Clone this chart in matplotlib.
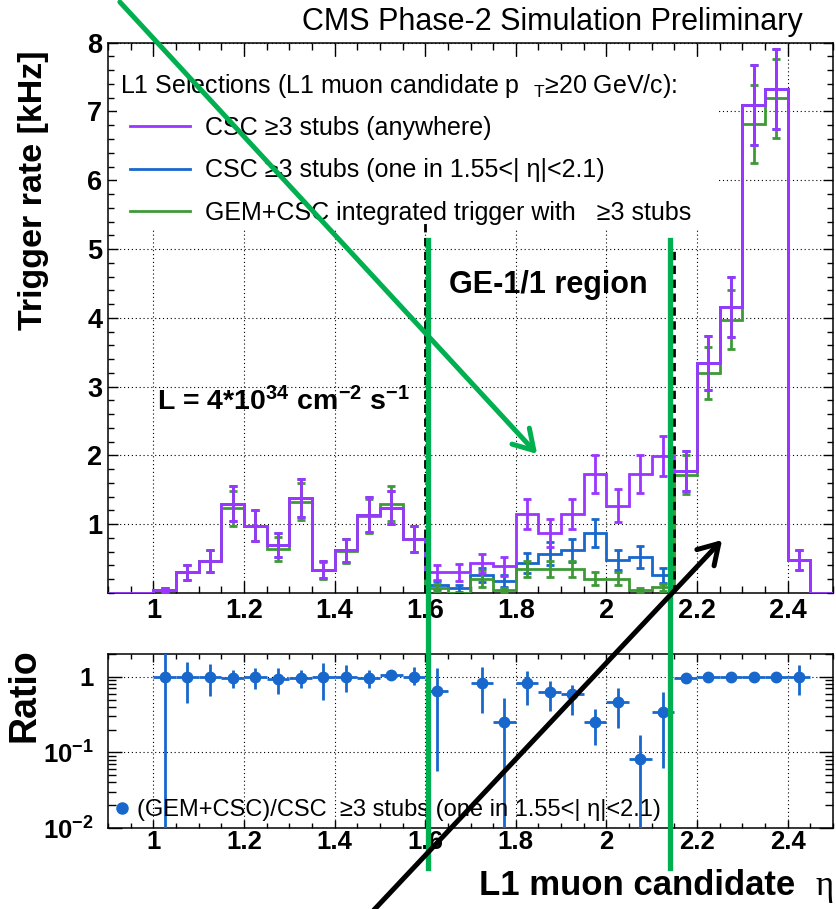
import numpy as np
import matplotlib
matplotlib.use("Agg")
import matplotlib.pyplot as plt
from matplotlib.lines import Line2D
from matplotlib.patches import Rectangle, FancyArrowPatch
from matplotlib.ticker import MultipleLocator, FixedLocator, LogLocator, NullFormatter, FuncFormatter

plt.rcParams['font.family'] = ['Liberation Sans', 'DejaVu Sans']
plt.rcParams['font.weight'] = 'bold'
plt.rcParams['mathtext.default'] = 'regular'

# ---------------- data ----------------
bin_edges = np.round(np.linspace(0.9, 2.5, 33), 3)

csc_any = [0.0, 0.0, 0.04, 0.30, 0.47, 1.30, 0.98, 0.70, 1.38, 0.34, 0.62, 1.14, 1.24, 0.79,
           0.30, 0.30, 0.43, 0.39, 1.15, 0.87, 1.15, 1.73, 1.27, 1.73, 1.99, 1.78,
           3.34, 4.16, 7.10, 7.33, 0.48, 0.0]
csc_any_err = [0.0, 0.0, 0.03, 0.11, 0.16, 0.26, 0.22, 0.17, 0.28, 0.12, 0.17, 0.25, 0.24, 0.19,
               0.11, 0.12, 0.14, 0.14, 0.22, 0.20, 0.22, 0.27, 0.24, 0.27, 0.29, 0.29,
               0.39, 0.44, 0.58, 0.58, 0.15, 0.0]

csc_me11 = [0.0, 0.0, 0.04, 0.30, 0.47, 1.30, 0.98, 0.70, 1.38, 0.34, 0.62, 1.14, 1.24, 0.79,
            0.12, 0.07, 0.26, 0.17, 0.43, 0.57, 0.62, 0.87, 0.48, 0.53, 0.26, 1.78,
            3.34, 4.16, 7.10, 7.33, 0.48, 0.0]
csc_me11_err = [0.0, 0.0, 0.03, 0.11, 0.16, 0.26, 0.22, 0.17, 0.28, 0.12, 0.17, 0.25, 0.24, 0.19,
                0.06, 0.05, 0.10, 0.09, 0.145, 0.165, 0.17, 0.20, 0.145, 0.16, 0.11, 0.29,
                0.39, 0.44, 0.58, 0.58, 0.15, 0.0]

gem_csc = [0.0, 0.0, 0.04, 0.30, 0.47, 1.23, 0.98, 0.64, 1.33, 0.33, 0.61, 1.12, 1.30, 0.79,
           0.075, 0.0, 0.21, 0.04, 0.35, 0.35, 0.35, 0.21, 0.21, 0.045, 0.08, 1.72,
           3.20, 3.97, 6.82, 7.19, 0.48, 0.0]
gem_csc_err = [0.0, 0.0, 0.03, 0.11, 0.16, 0.25, 0.22, 0.17, 0.27, 0.12, 0.17, 0.25, 0.25, 0.19,
               0.05, 0.0, 0.12, 0.03, 0.12, 0.12, 0.12, 0.09, 0.09, 0.03, 0.05, 0.28,
               0.38, 0.43, 0.57, 0.58, 0.15, 0.0]

ratio_x = [1.025, 1.075, 1.125, 1.175, 1.225, 1.275, 1.325, 1.375, 1.425, 1.475, 1.525, 1.575,
           1.625, 1.725, 1.775, 1.825, 1.875, 1.925, 1.975, 2.025, 2.075, 2.125,
           2.175, 2.225, 2.275, 2.325, 2.375, 2.425]
ratio_val = [1.0, 1.0, 1.0, 0.96, 1.0, 0.93, 0.97, 1.0, 1.0, 0.95, 1.05, 1.0,
             0.65, 0.83, 0.256, 0.82, 0.62, 0.585, 0.256, 0.47, 0.083, 0.34,
             0.97, 0.98, 0.98, 0.98, 0.98, 1.0]
ratio_hi = [2.5, 1.55, 1.47, 1.22, 1.29, 1.31, 1.22, 1.53, 1.42, 1.22, 1.22, 1.35,
            1.29, 1.35, 0.53, 1.19, 0.88, 0.78, 0.38, 0.70, 0.17, 0.62,
            1.13, 1.06, 1.06, 1.04, 1.04, 1.42]
ratio_lo = [0.001, 0.45, 0.56, 0.70, 0.68, 0.60, 0.72, 0.49, 0.62, 0.70, 0.90, 0.78,
            0.056, 0.33, 0.001, 0.42, 0.35, 0.31, 0.126, 0.21, 0.001, 0.062,
            0.82, 0.90, 0.90, 0.92, 0.92, 0.57]
ratio_xerr = 0.025

region_edges = [1.6, 2.15]
region_dash_top = [5.4, 5.02]

x_ticks_major = 0.2
x_ticks_minor = 0.05

c_purple = '#9a36ff'
c_blue = '#1767cc'
c_green = '#3d9a36'
c_mark = '#00b050'

labels = ['CSC \u22653 stubs (anywhere)',
          'CSC \u22653 stubs (one in 1.55<| \u03b7|<2.1)',
          'GEM+CSC integrated trigger with   \u22653 stubs']
header = 'L1 Selections (L1 muon candidate p  $_{T}$\u226520 GeV/c):'
ratio_label = '(GEM+CSC)/CSC  \u22653 stubs (one in 1.55<| \u03b7|<2.1)'

# ---------------- layout ----------------
W, H = 837, 909
fig = plt.figure(figsize=(W / 100, H / 100), dpi=100)


def fx(px):
    return px / W


def fy(py):
    return 1 - py / H


ax = fig.add_axes([fx(108), fy(593), fx(833) - fx(108), fy(42.7) - fy(593)])
ax2 = fig.add_axes([fx(108), fy(828), fx(833) - fx(108), fy(654) - fy(828)])

centers = 0.5 * (bin_edges[:-1] + bin_edges[1:])

series = [(csc_me11, csc_me11_err, c_blue, 2),
          (gem_csc, gem_csc_err, c_green, 3),
          (csc_any, csc_any_err, c_purple, 4)]
for vals, errs, col, z in series:
    vals = np.asarray(vals)
    errs = np.asarray(errs)
    ax.stairs(vals, bin_edges, color=col, lw=2.0, zorder=z)
    m = vals > 0
    ax.errorbar(centers[m], vals[m], yerr=errs[m], fmt='none', ecolor=col,
                elinewidth=2.0, capsize=3.2, capthick=2.0, zorder=z)

for xe, yt in zip(region_edges, region_dash_top):
    ax.plot([xe, xe], [0, yt], color='black', lw=2.0, ls=(0, (3, 2)), zorder=5)

ax.set_xlim(0.9, 2.5)
ax.set_ylim(0, 8)
ax.xaxis.set_major_locator(MultipleLocator(x_ticks_major))
ax.xaxis.set_minor_locator(MultipleLocator(x_ticks_minor))
ax.xaxis.set_major_formatter(FuncFormatter(lambda v, p: f"{v:g}"))
ax.yaxis.set_major_locator(FixedLocator([1, 2, 3, 4, 5, 6, 7, 8]))
ax.yaxis.set_minor_locator(MultipleLocator(0.2))
ax.tick_params(which='both', direction='in', top=True, right=True, width=1.0, labelsize=19.5)
ax.tick_params(axis='x', which='major', length=9, pad=3.5)
ax.tick_params(axis='x', which='minor', length=4.7)
ax.tick_params(axis='y', which='major', length=7.5, pad=4)
ax.tick_params(axis='y', which='minor', length=4.5)
ax.grid(True, which='major', color='black', lw=0.8, ls=(0, (1, 2.5)))
for s in ax.spines.values():
    s.set_linewidth(1.1)

# white legend area hiding the grid
ax.add_patch(Rectangle(((117 - 108) / 725, (593 - 228) / 550.3), (717 - 117) / 725,
                       (228 - 57) / 550.3, transform=ax.transAxes, facecolor='white',
                       edgecolor='none', zorder=1.6))

handles = [Line2D([], [], color=c, lw=2.0) for c in (c_purple, c_blue, c_green)]
leg = ax.legend(handles, labels, loc='upper left', bbox_to_anchor=(fx(130), fy(116)),
                bbox_transform=fig.transFigure, frameon=False, borderpad=0, borderaxespad=0,
                handlelength=2.4, handletextpad=0.6, labelspacing=0.74,
                prop={'size': 18, 'weight': 'normal'})
fig.text(fx(120), fy(92.7), header, fontsize=18, fontweight='normal', va='baseline')

# ratio panel
rv = np.asarray(ratio_val)
ax2.errorbar(ratio_x, rv, yerr=[rv - np.asarray(ratio_lo), np.asarray(ratio_hi) - rv],
             xerr=ratio_xerr, fmt='o', color=c_blue, ms=7.5, elinewidth=2.0, capsize=0,
             zorder=3)
ax2.set_yscale('log')
ax2.set_xlim(0.9, 2.5)
ax2.set_ylim(0.01, 2)
ax2.xaxis.set_major_locator(MultipleLocator(x_ticks_major))
ax2.xaxis.set_minor_locator(MultipleLocator(x_ticks_minor))
ax2.xaxis.set_major_formatter(FuncFormatter(lambda v, p: f"{v:g}"))
ax2.yaxis.set_major_locator(FixedLocator([0.01, 0.1, 1]))
ax2.yaxis.set_major_formatter(FuncFormatter(
    lambda v, p: {0.01: '10$^{-2}$', 0.1: '10$^{-1}$', 1: '1'}.get(round(v, 3), '')))
ax2.yaxis.set_minor_locator(LogLocator(base=10, subs=np.arange(2, 10)))
ax2.yaxis.set_minor_formatter(NullFormatter())
ax2.tick_params(which='both', direction='in', top=True, right=True, width=1.0, labelsize=18.5)
ax2.tick_params(axis='x', which='major', length=6, pad=1.5)
ax2.tick_params(axis='x', which='minor', length=3.5)
ax2.tick_params(axis='y', which='major', length=10, pad=10)
ax2.tick_params(axis='y', which='minor', length=6)
ax2.grid(True, which='major', color='black', lw=0.8, ls=(0, (1, 2.5)))
for s in ax2.spines.values():
    s.set_linewidth(1.1)

ax2.legend([Line2D([], [], marker='o', ls='none', color=c_blue, ms=8)], [ratio_label],
           loc='center left', bbox_to_anchor=(fx(115), fy(810)), bbox_transform=fig.transFigure,
           frameon=False, borderpad=0, borderaxespad=0, handlelength=0.6, handletextpad=0.35,
           prop={'size': 17, 'weight': 'normal'})

# titles / labels
fig.text(fx(803), fy(30), 'CMS Phase-2 Simulation Preliminary', fontsize=22,
         fontweight='normal', ha='right', va='baseline')
fig.text(fx(34), fy(50), 'Trigger rate [kHz]', rotation=90, ha='center', va='top', fontsize=24.5)
fig.text(fx(25), fy(648), 'Ratio', rotation=90, ha='center', va='top', fontsize=27)
fig.text(fx(795), fy(895), 'L1 muon candidate', ha='right', va='baseline', fontsize=25)
fig.text(fx(834), fy(895), '\u03b7', ha='right', va='baseline', fontsize=25,
         fontweight='normal', family=['Liberation Serif', 'DejaVu Serif'])
fig.text(fx(548), fy(293), 'GE-1/1 region', ha='center', va='baseline', fontsize=22)
fig.text(fx(157), fy(410), 'L = 4*10$^{34}$ cm$^{-2}$ s$^{-1}$', ha='left', va='baseline',
         fontsize=20.5)

# hand-drawn overlay marks
for xp in (428, 670):
    fig.add_artist(Line2D([fx(xp), fx(xp)], [fy(240), fy(868)], color=c_mark, lw=3.8,
                          transform=fig.transFigure, zorder=10))

fig.add_artist(FancyArrowPatch((fx(118), fy(0)), (fx(539), fy(456)), transform=fig.transFigure,
                               arrowstyle='->,head_length=1.4,head_width=0.85', mutation_scale=10,
                               color=c_mark, lw=3.6, zorder=10))
fig.add_artist(FancyArrowPatch((fx(372), fy(912)), (fx(724), fy(538)), transform=fig.transFigure,
                               arrowstyle='->,head_length=1.4,head_width=0.85', mutation_scale=10,
                               color='black', lw=3.6, zorder=10))

fig.savefig('out.png', dpi=100)
